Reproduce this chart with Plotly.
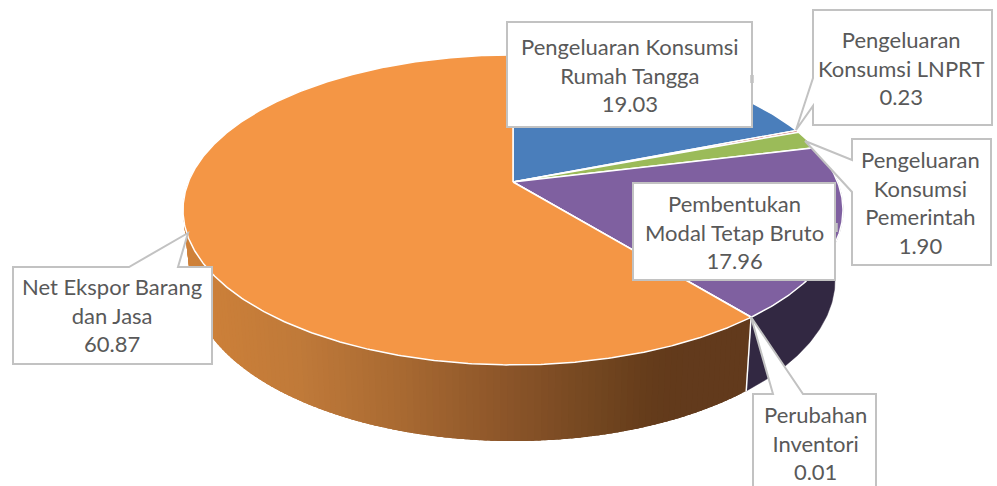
import numpy as np
import plotly.graph_objects as go

# ---- data ----
categories = ["Pengeluaran Konsumsi Rumah Tangga", "Pengeluaran Konsumsi LNPRT",
              "Pengeluaran Konsumsi Pemerintah", "Pembentukan Modal Tetap Bruto",
              "Perubahan Inventori", "Net Ekspor Barang dan Jasa"]
values = [19.03, 0.23, 1.90, 17.96, 0.01, 60.87]
label_texts = ["Pengeluaran Konsumsi<br>Rumah Tangga", "Pengeluaran<br>Konsumsi LNPRT",
               "Pengeluaran<br>Konsumsi<br>Pemerintah", "Pembentukan<br>Modal Tetap Bruto",
               "Perubahan<br>Inventori", "Net Ekspor Barang<br>dan Jasa"]
colors = ["#4a7ebb", "#c0504d", "#9bbb59", "#7f60a0", "#4bacc6", "#f49645"]
side_colors = ["#2a4a70", "#70302e", "#5c7034", "#322842", "#322842", None]

# ---- projection of the tilted pie ----
CX, CY, A, B, K = 513, 182, 324.6, 150, 0.18
A2, B2, K2, CY2 = 316.5, 155.7, 0.185, 250


def rim(theta_deg):
    t = np.radians(theta_deg)
    w = 1 + K * np.cos(t)
    return CX + A * np.sin(t) / w, CY - B * np.cos(t) / w


def bottom(theta_deg):
    t = np.radians(theta_deg)
    w = 1 + K2 * np.cos(t)
    return CX + A2 * np.sin(t) / w, CY2 - B2 * np.cos(t) / w


def orange_side_color(x):
    stops_x = [185, 300, 400, 513, 600, 650, 680]
    stops_r = [208, 192, 169, 138, 114, 101, 98]
    stops_g = [130, 122, 106, 84, 70, 60, 58]
    stops_b = [57, 58, 50, 41, 32, 27, 28]
    return "rgb(%d,%d,%d)" % (np.interp(x, stops_x, stops_r),
                              np.interp(x, stops_x, stops_g),
                              np.interp(x, stops_x, stops_b))


cum = np.cumsum([0] + values) * 3.6
fig = go.Figure()


def poly(xs, ys, fill, line=None, width=0, name=None):
    fig.add_trace(go.Scatter(x=xs, y=ys, mode="lines", fill="toself", fillcolor=fill,
                             line=dict(color=line or fill, width=width),
                             hoverinfo="skip", showlegend=False, name=name))


# side wall of the middle slices
for i in [3, 4]:
    th = np.linspace(cum[i], cum[i + 1], max(2, int(cum[i + 1] - cum[i]) * 2))
    x1, y1 = rim(th)
    x2, y2 = bottom(th[::-1])
    poly(list(x1) + list(x2), list(y1) + list(y2), side_colors[i], width=0.5, name=categories[i])

# side wall of the large slice, shaded across its width; strips overlap to hide seams
th_edges = np.arange(cum[5], 272.0, 1.0)
for a0 in th_edges:
    ths = np.array([a0, a0 + 1.0, a0 + 2.5])
    x1, y1 = rim(ths)
    x2, y2 = bottom(ths[::-1])
    xm = float(np.mean(list(x1[:2]) + list(x2[1:])))
    poly(list(x1) + list(x2), list(y1) + list(y2), orange_side_color(xm), width=0, name=categories[5])

# white seam between wall segments
sx0, sy0 = rim(cum[5])
sx1, sy1 = bottom(cum[5])
fig.add_trace(go.Scatter(x=[sx0, sx1], y=[sy0, sy1], mode="lines",
                         line=dict(color="white", width=1.5), hoverinfo="skip", showlegend=False))

# top face
for i, name in enumerate(categories):
    th = np.linspace(cum[i], cum[i + 1], max(2, int(cum[i + 1] - cum[i]) * 2))
    x, y = rim(th)
    poly([CX] + list(x) + [CX], [CY] + list(y) + [CY], colors[i], "white", 1.5, name)

# ---- callout boxes (outline, with pointer) ----
GREY = "#c2c2c2"
callouts = [
    "M507,22 L752,22 L752,127 L507,127 Z",
    "M813,10 L992,10 L992,125 L813,125 L813,106 L796,130 L813,78 Z",
    "M852,139 L991,139 L991,265 L852,265 L852,192 L805,141 L852,160 Z",
    "M633,183 L835,183 L835,280 L633,280 Z",
    "M753,394 L773,394 L751,317 L803,394 L876,394 L876,492 L753,492 Z",
    "M13,267 L129,267 L188,233 L178,267 L212,267 L212,364 L13,364 Z",
]
shapes = [dict(type="path", path=p, xref="x", yref="y", layer="above",
               fillcolor="white", line=dict(color=GREY, width=2)) for p in callouts]
shapes += [dict(type="line", x0=752, x1=752, y0=75, y1=83, xref="x", yref="y", layer="above",
                line=dict(color=GREY, width=3.5)),
           dict(type="line", x0=836, x1=836, y0=223, y1=232, xref="x", yref="y", layer="above",
                line=dict(color=GREY, width=3.5))]

centres = [(630, 75), (901, 68), (920, 202), (734, 232), (815, 443), (112, 315)]
annotations = []
for text, v, (x, y) in zip(label_texts, values, centres):
    annotations.append(dict(x=x, y=y, xref="x", yref="y", text="%s<br>%.2f" % (text, v),
                            showarrow=False, align="center", xanchor="center", yanchor="middle",
                            font=dict(family="Lato", size=22, color="#595959")))

fig.update_layout(width=997, height=486, margin=dict(l=0, r=0, t=0, b=0),
                  paper_bgcolor="white", plot_bgcolor="white", showlegend=False,
                  xaxis=dict(range=[0, 997], visible=False, fixedrange=True),
                  yaxis=dict(range=[486, 0], visible=False, fixedrange=True),
                  shapes=shapes, annotations=annotations)
fig.write_html("out.html", config=dict(displayModeBar=False),
               post_script="document.body.style.margin='0';")
